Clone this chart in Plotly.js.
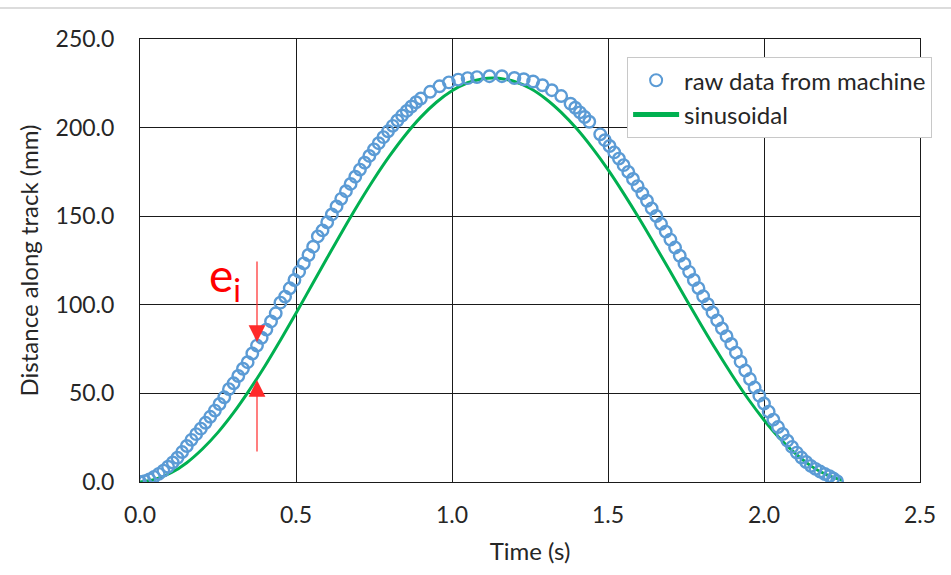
<!DOCTYPE html>
<html>
<head>
<meta charset="utf-8">
<script src="https://cdn.plot.ly/plotly-3.0.1.min.js"></script>
<style>html,body{margin:0;padding:0;background:#fff;}#chart{width:951px;height:575px;}</style>
</head>
<body>
<div id="chart"></div>
<script>
// raw data from machine (time s, distance mm)
var rawT = [0, 0.015, 0.03, 0.045, 0.06, 0.075, 0.09, 0.105, 0.12, 0.135,
  0.15, 0.165, 0.18, 0.195, 0.21, 0.225, 0.24, 0.255, 0.27, 0.285,
  0.30, 0.315, 0.33, 0.345, 0.36, 0.375, 0.39, 0.405, 0.42, 0.435,
  0.45, 0.465, 0.48, 0.495, 0.51, 0.525, 0.54, 0.555, 0.57, 0.585,
  0.60, 0.615, 0.63, 0.645, 0.66, 0.675, 0.69, 0.705, 0.72, 0.735,
  0.75, 0.765, 0.78, 0.795, 0.81, 0.825, 0.84, 0.855, 0.87, 0.885,
  0.90, 0.93, 0.96, 0.99, 1.02, 1.05, 1.08, 1.12, 1.16, 1.20,
  1.23, 1.26, 1.29, 1.32, 1.35, 1.38, 1.395, 1.41, 1.425, 1.44,
  1.475, 1.49, 1.505, 1.52, 1.535, 1.55, 1.565, 1.58, 1.595, 1.61,
  1.625, 1.64, 1.655, 1.67, 1.685, 1.70, 1.715, 1.73, 1.745, 1.76,
  1.775, 1.79, 1.805, 1.82, 1.835, 1.85, 1.865, 1.88,
  1.895, 1.91, 1.925, 1.94, 1.955, 1.97, 1.985, 2.00, 2.015, 2.03,
  2.045, 2.06, 2.075, 2.09, 2.105, 2.12, 2.135, 2.15, 2.165, 2.18,
  2.195, 2.21, 2.222, 2.234];
var rawY = [0.0, 0.5, 1.5, 2.9, 4.6, 6.4, 8.6, 11.0, 13.7, 16.9,
  20.3, 23.8, 27.0, 30.1, 33.4, 36.8, 40.3, 44.0, 47.8, 52.4,
  55.7, 59.8, 63.9, 67.6, 72.5, 77.0, 81.4, 86.0, 90.6, 95.2,
  101.2, 104.6, 109.3, 114.0, 118.7, 123.4, 128.1, 132.8, 138.6, 142.0,
  146.6, 151.0, 155.5, 159.8, 164.1, 168.2, 172.3, 176.3, 180.2, 184.0,
  187.7, 191.2, 194.6, 197.9, 201.0, 204.0, 206.8, 209.4, 211.9, 214.3,
  216.4, 220.2, 223.3, 225.5, 227.1, 227.9, 228.5, 229.0, 229.0, 228.0,
  227.3, 226.0, 223.9, 221.1, 217.8, 213.5, 211.2, 208.6, 206.0, 203.3,
  196.2, 192.9, 189.6, 186.0, 182.5, 178.8, 175.0, 171.0, 167.0, 162.9,
  158.7, 154.4, 150.1, 145.7, 141.3, 136.8, 132.3, 127.7, 123.2, 118.6,
  114.0, 109.4, 104.8, 100.3, 95.7, 91.2, 86.7, 82.3,
  77.9, 73.0, 67.9, 62.9, 58.1, 53.3, 48.7, 44.3, 39.7, 35.2,
  31.0, 27.1, 23.3, 19.8, 16.6, 13.8, 11.3, 9.1, 7.4, 5.9,
  4.5, 3.3, 2.0, 0.5];

// sinusoidal reference curve
var sinT = [0, 0.05, 0.10, 0.15, 0.20, 0.25, 0.30, 0.35, 0.40, 0.45,
  0.50, 0.55, 0.60, 0.65, 0.70, 0.75, 0.80, 0.85, 0.90, 0.95,
  1.00, 1.05, 1.10, 1.13, 1.15, 1.20, 1.25, 1.30, 1.35, 1.40,
  1.45, 1.50, 1.55, 1.60, 1.65, 1.70, 1.75, 1.80, 1.85, 1.90,
  1.95, 2.00, 2.05, 2.10, 2.15, 2.20, 2.25];
var sinY = [0, 1.6, 5.2, 10.9, 18.6, 28.0, 39.1, 51.7, 65.3, 80.0,
  95.2, 110.9, 126.5, 142.0, 156.9, 171.0, 184.0, 195.7, 205.9, 214.3,
  220.8, 225.3, 227.6, 228.0, 227.8, 226.0, 222.2, 216.3, 208.6, 199.3,
  188.4, 176.3, 162.9, 148.7, 133.8, 118.6, 103.3, 88.2, 73.6, 59.7,
  46.7, 35.0, 24.7, 16.1, 9.1, 4.1, 1.0];

var xTicks = [0, 0.5, 1.0, 1.5, 2.0, 2.5];
var yTicks = [0, 50, 100, 150, 200, 250];

// e_i marker: time and the two distances the arrows point at
var errT = 0.375;
var errRaw = 79;
var errSin = 57.6;

var FONT = 'Lato, "Open Sans", sans-serif';
var TXT = '#262626';

var traces = [
  {
    x: sinT, y: sinY, type: 'scatter', mode: 'lines', name: 'sinusoidal',
    line: {color: 'rgb(0,176,80)', width: 3, shape: 'spline'}
  },
  {
    x: rawT, y: rawY, type: 'scatter', mode: 'markers', name: 'raw data from machine',
    marker: {symbol: 'circle-open', size: 11.5, color: 'rgb(91,155,213)', line: {width: 2.4, color: 'rgb(91,155,213)'}}
  }
];

var layout = {
  width: 951, height: 575,
  margin: {l: 140, r: 31, t: 39, b: 93, autoexpand: false},
  paper_bgcolor: '#fff', plot_bgcolor: '#fff',
  font: {family: FONT, color: TXT, size: 24},
  showlegend: true,
  legend: {
    x: 0.6245, y: 0.959, xanchor: 'left', yanchor: 'top',
    bgcolor: '#fff', bordercolor: '#c8c8c8', borderwidth: 1,
    font: {family: FONT, size: 24, color: TXT},
    traceorder: 'reversed', itemsizing: 'constant', itemwidth: 46, tracegroupgap: 0
  },
  xaxis: {
    range: [0, 2.5], tickvals: xTicks, tickformat: '.1f',
    showgrid: true, gridcolor: '#1a1a1a', gridwidth: 1,
    zeroline: false, showline: true, linecolor: '#1a1a1a', linewidth: 1, mirror: true,
    ticks: '', ticklabelstandoff: 12,
    tickfont: {family: FONT, size: 23, color: TXT},
    title: {text: 'Time (s)', font: {family: FONT, size: 24, color: TXT}, standoff: 16},
    automargin: false
  },
  yaxis: {
    range: [0, 250], tickvals: yTicks, tickformat: '.1f',
    showgrid: true, gridcolor: '#1a1a1a', gridwidth: 1,
    zeroline: false, showline: true, linecolor: '#1a1a1a', linewidth: 1, mirror: true,
    ticks: '', ticklabelstandoff: 20,
    tickfont: {family: FONT, size: 23, color: TXT},
    title: {text: 'Distance along track (mm)', font: {family: FONT, size: 24, color: TXT}, standoff: 10},
    automargin: false
  },
  shapes: [
    {type: 'line', xref: 'paper', yref: 'paper', x0: -0.18, x1: 1.04, y0: 1.07, y1: 1.07,
     line: {color: '#d0d0d0', width: 1.5}}
  ],
  annotations: [
    {x: errT, y: errRaw, xref: 'x', yref: 'y', text: '', showarrow: true,
     ax: 0, ay: -82, arrowhead: 2, arrowsize: 2.8, arrowwidth: 1.2, arrowcolor: '#ff2a2a'},
    {x: errT, y: errSin, xref: 'x', yref: 'y', text: '', showarrow: true,
     ax: 0, ay: 73, arrowhead: 2, arrowsize: 2.8, arrowwidth: 1.2, arrowcolor: '#ff2a2a'},
    {x: errT, y: errRaw, xref: 'x', yref: 'y', text: 'e<sub>i</sub>', showarrow: false,
     xanchor: 'right', yanchor: 'middle', xshift: -14, yshift: 64,
     font: {family: FONT, size: 46, color: '#ff0000'}}
  ]
};

Plotly.newPlot('chart', traces, layout, {displayModeBar: false, staticPlot: true});
</script>
</body>
</html>
